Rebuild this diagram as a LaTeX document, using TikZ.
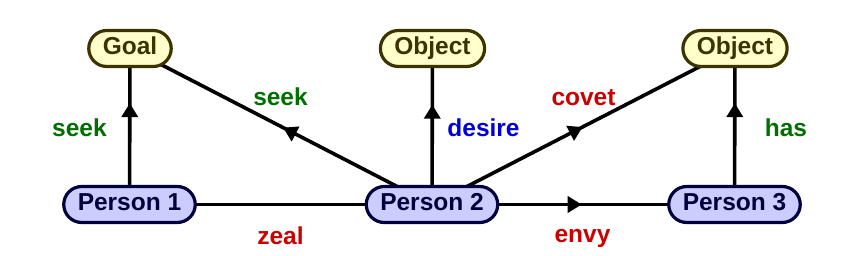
\documentclass[tikz,border=0pt]{standalone}
\usepackage{fontspec}
\setmainfont{Liberation Sans}
\usetikzlibrary{arrows.meta,decorations.markings,backgrounds}
\definecolor{goalfill}{RGB}{255,255,204}
\definecolor{goaldraw}{RGB}{60,52,0}
\definecolor{persfill}{RGB}{204,204,255}
\definecolor{persdraw}{RGB}{0,0,60}
\definecolor{lblgreen}{RGB}{0,110,0}
\definecolor{lblred}{RGB}{204,0,0}
\definecolor{lblblue}{RGB}{0,0,214}
\tikzset{
  basebox/.style={rounded corners=18pt, line width=3.2pt, inner xsep=14pt, inner ysep=2pt,
    minimum height=36pt, text height=18pt, text depth=5pt,
    font=\fontsize{24.5}{29}\selectfont\bfseries},
  goalbox/.style={basebox, fill=goalfill, draw=goaldraw, text=goaldraw},
  personbox/.style={basebox, fill=persfill, draw=persdraw, text=persdraw},
  edge/.style={line width=3.6pt, black},
  midarrow/.style={postaction={decorate,decoration={markings,
    mark=at position #1 with {\arrow{Triangle[width=16pt,length=14pt]}}}}},
  lbl/.style={anchor=base, inner sep=0pt, font=\fontsize{24.5}{29}\selectfont\bfseries}
}
\begin{document}
\begin{tikzpicture}[x=1pt,y=-1pt]
\useasboundingbox (0,0) rectangle (864,256);
\node[goalbox] (goal) at (130,48.5) {Goal};
\node[goalbox] (obj1) at (432.5,48.5) {Object};
\node[goalbox] (obj2) at (735,48.5) {Object};
\node[personbox] (p1) at (129.5,204.5) {Person 1};
\node[personbox] (p2) at (432,204.5) {Person 2};
\node[personbox] (p3) at (734.5,204.5) {Person 3};
\begin{scope}[on background layer]
\draw[edge] (p1.center) -- (p2.center);
\draw[edge, midarrow=0.495] (p2.center) -- (p3.center);
\draw[edge, midarrow=0.65] (p1.center) -- (goal.center);
\draw[edge, midarrow=0.493] (p2.center) -- (goal.center);
\draw[edge, midarrow=0.64] (p2.center) -- (obj1.center);
\draw[edge, midarrow=0.497] (p2.center) -- (obj2.center);
\draw[edge, midarrow=0.65] (p3.center) -- (obj2.center);
\end{scope}
\node[lbl, text=lblgreen] (l1) at (79.5,137) {seek};
\node[lbl, text=lblgreen] (l2) at (280.5,106) {seek};
\node[lbl, text=lblblue] (l3) at (483.5,137) {desire};
\node[lbl, text=lblred] (l4) at (583.5,106) {covet};
\node[lbl, text=lblgreen] (l5) at (786,137) {has};
\node[lbl, text=lblred] (l6) at (280.5,245) {zeal};
\node[lbl, text=lblred] (l7) at (582.5,243) {envy};
\end{tikzpicture}
\end{document}
